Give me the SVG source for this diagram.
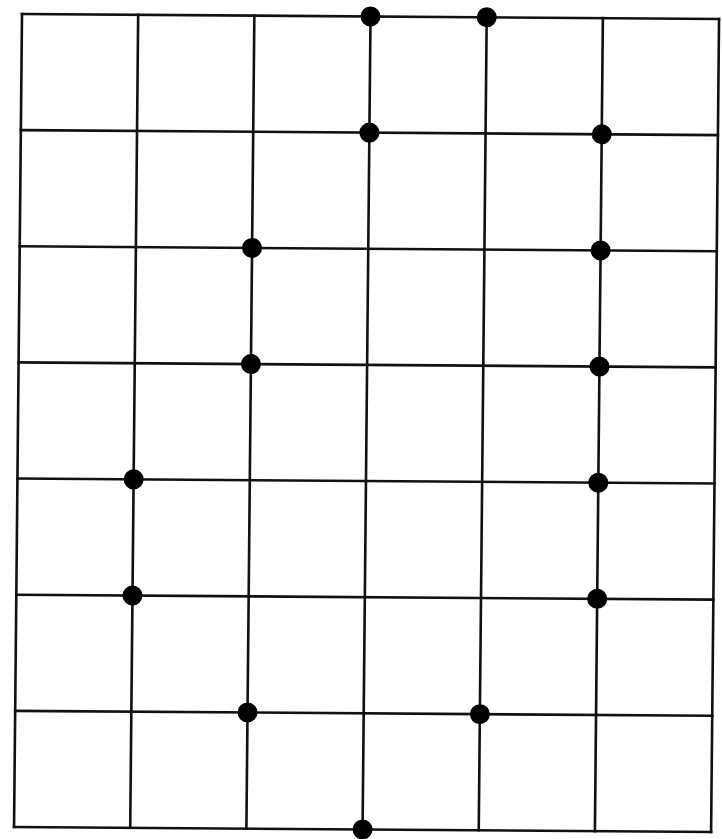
<svg xmlns="http://www.w3.org/2000/svg" width="722" height="839" viewBox="0 0 722 839">
<style>
.g{stroke:#111;stroke-width:2.6;fill:none;stroke-linecap:square}
.d{fill:#000}
</style>
<rect width="722" height="839" fill="#fff"/>
<g transform="matrix(1.0015 0.00714 -0.0098 1.0012 22 14)">
<g id="connectors" class="g">
<path d="M0 0V812M116 0V812M232 0V812M348 0V812M464 0V812M580 0V812M696 0V812"/>
<path d="M0 0H696M0 116H696M0 232H696M0 348H696M0 464H696M0 580H696M0 696H696M0 812H696"/>
</g>
<g id="n1"><circle class="d" cx="348" cy="0" r="10"/></g>
<g id="n2"><circle class="d" cx="464" cy="0" r="10"/></g>
<g id="n3"><circle class="d" cx="348" cy="116" r="10"/></g>
<g id="n4"><circle class="d" cx="580" cy="116" r="10"/></g>
<g id="n5"><circle class="d" cx="232" cy="232" r="10"/></g>
<g id="n6"><circle class="d" cx="580" cy="232" r="10"/></g>
<g id="n7"><circle class="d" cx="232" cy="348" r="10"/></g>
<g id="n8"><circle class="d" cx="580" cy="348" r="10"/></g>
<g id="n9"><circle class="d" cx="116" cy="464" r="10"/></g>
<g id="n10"><circle class="d" cx="580" cy="464" r="10"/></g>
<g id="n11"><circle class="d" cx="116" cy="580" r="10"/></g>
<g id="n12"><circle class="d" cx="580" cy="580" r="10"/></g>
<g id="n13"><circle class="d" cx="232" cy="696" r="10"/></g>
<g id="n14"><circle class="d" cx="464" cy="696" r="10"/></g>
<g id="n15"><circle class="d" cx="348" cy="812" r="10"/></g>
</g>
</svg>
